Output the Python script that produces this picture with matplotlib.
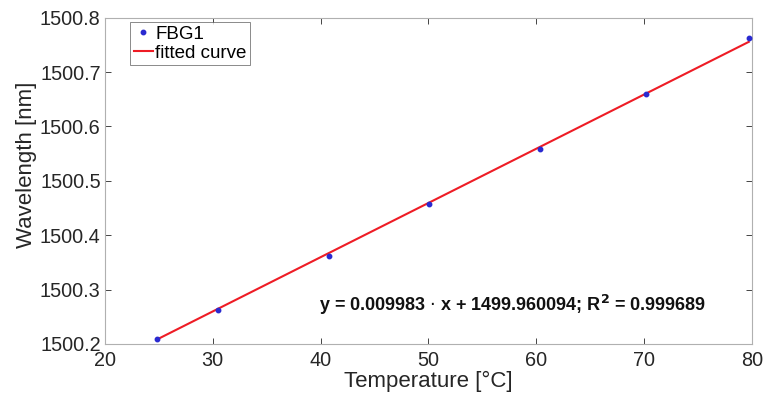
import numpy as np
import matplotlib
matplotlib.use("Agg")
import matplotlib.pyplot as plt

# FBG1 calibration: Bragg wavelength vs temperature
temperature = [24.8, 30.5, 40.8, 50.1, 60.3, 70.2, 79.7]
wavelength = [1500.208, 1500.262, 1500.362, 1500.457, 1500.559, 1500.659, 1500.762]

slope = 0.009983
intercept = 1499.960094
r_squared = 0.999689

plt.rcParams['font.family'] = ['Liberation Sans', 'DejaVu Sans']

fig = plt.figure(figsize=(7.65, 4.05), dpi=100)
ax = fig.add_axes([0.137, 0.151, 0.846, 0.805])

x_fit = np.array([min(temperature), max(temperature)])
y_fit = slope * x_fit + intercept

ax.plot(temperature, wavelength, 'o', color='#2a2ad0', markersize=3.2, label='FBG1', zorder=3)
ax.plot(x_fit, y_fit, '-', color='#ee1c25', linewidth=1.5, label='fitted curve', zorder=2)

ax.set_xlim(20, 80)
ax.set_ylim(1500.2, 1500.8)
ax.set_xticks([20, 30, 40, 50, 60, 70, 80])
ax.set_yticks([1500.2, 1500.3, 1500.4, 1500.5, 1500.6, 1500.7, 1500.8])
ax.set_yticklabels(['1500.2', '1500.3', '1500.4', '1500.5', '1500.6', '1500.7', '1500.8'])

ax.tick_params(direction='in', length=4, width=0.6, colors='#262626', labelsize=14.3,
               top=True, right=True, pad=3)
ax.tick_params(axis='x', pad=5)
for s in ax.spines.values():
    s.set_color('#b0b0b0')
    s.set_linewidth(0.8)

ax.set_xlabel('Temperature [°C]', fontsize=16, color='#262626', labelpad=1)
ax.set_ylabel('Wavelength [nm]', fontsize=16, color='#262626')
ax.yaxis.set_label_coords(-0.104, 0.55)

ax.text(57.8, 1500.272,
        r'y = %.6f $\cdot$ x + %.6f; R$^\mathbf{2}$ = %.6f' % (slope, intercept, r_squared),
        ha='center', va='center', fontsize=13, fontweight='bold', color='#111111')

leg = ax.legend(loc='upper left', bbox_to_anchor=(0.039, 0.988), fontsize=13.5, frameon=True,
                fancybox=False, borderpad=0.2, handlelength=1.0, handletextpad=0.15,
                labelspacing=0.1, borderaxespad=0.0)
leg.get_frame().set_edgecolor('#555555')
leg.get_frame().set_linewidth(0.6)

fig.savefig('out.png', dpi=100)
